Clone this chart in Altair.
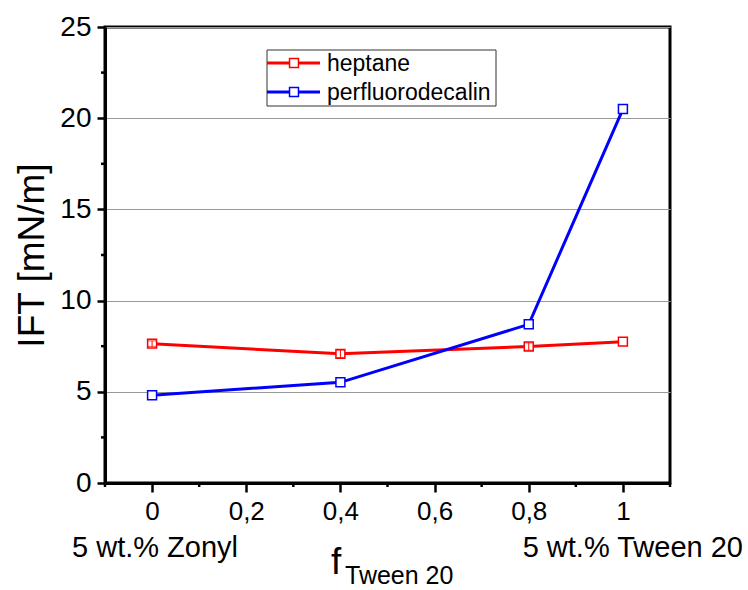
import altair as alt
import pandas as pd

# ---- data ----
f_tween = [0.0, 0.4, 0.8, 1.0]
heptane = [7.64, 7.08, 7.48, 7.75]
heptane_err = [0.15, 0.2, 0.2, 0.0]
perfluoro = [4.81, 5.52, 8.70, 20.50]
perfluoro_err = [0.0, 0.0, 0.0, 0.0]
series_names = ["heptane", "perfluorodecalin"]
series_colors = ["#ff0000", "#0000ff"]
y_major = [0, 5, 10, 15, 20, 25]
y_minor = [2.5, 7.5, 12.5, 17.5, 22.5]
x_major = [0, 0.2, 0.4, 0.6, 0.8, 1.0]
x_minor = [-0.1, 0.1, 0.3, 0.5, 0.7, 0.9, 1.1]

FONT = "Liberation Sans"
W, H = 565, 456

rows = []
for name, vals, errs in [("heptane", heptane, heptane_err), ("perfluorodecalin", perfluoro, perfluoro_err)]:
    for x, v, e in zip(f_tween, vals, errs):
        rows.append({"f": x, "IFT": v, "lo": v - e, "hi": v + e, "err": e, "series": name})
df = pd.DataFrame(rows)
df_err = df[df["err"] > 0]

xs = alt.Scale(domain=[-0.1, 1.1], nice=False, zero=False)
ys = alt.Scale(domain=[0, 25], nice=False, zero=True)
cs = alt.Scale(domain=series_names, range=series_colors)

x_axis = alt.Axis(
    values=x_major,
    labelExpr="datum.value == 0 ? '0' : datum.value == 1 ? '1' : replace(format(datum.value, '.1f'), '.', ',')",
    labelFont=FONT, labelFontSize=26, labelColor="black", labelPadding=6,
    tickSize=9, tickWidth=2.5, tickColor="black",
    domainColor="black", domainWidth=3, grid=False, title=None,
)
y_axis = alt.Axis(
    values=y_major, format="d",
    labelFont=FONT, labelFontSize=28, labelColor="black", labelPadding=6,
    tickSize=8, tickWidth=2.5, tickColor="black",
    domainColor="black", domainWidth=3,
    grid=True, gridColor="#999999", gridWidth=1,
    title="IFT [mN/m]", titleFont=FONT, titleFontSize=37, titleFontWeight="normal",
    titleColor="black", titleAngle=-90, titleAlign="center", titleBaseline="alphabetic",
    titleX=-62, titleY=H / 2,
)

base = alt.Chart(df)

lines = base.mark_line(strokeWidth=3).encode(
    x=alt.X("f:Q", scale=xs, axis=x_axis),
    y=alt.Y("IFT:Q", scale=ys, axis=y_axis),
    color=alt.Color("series:N", scale=cs, legend=None),
    detail="series:N",
)
points = base.mark_point(shape="square", filled=True, fill="white", size=80, strokeWidth=1.5, opacity=1).encode(
    x=alt.X("f:Q", scale=xs, axis=x_axis),
    y=alt.Y("IFT:Q", scale=ys, axis=y_axis),
    stroke=alt.Stroke("series:N", scale=cs, legend=None),
)
err_stem = alt.Chart(df_err).mark_rule(strokeWidth=1).encode(
    x=alt.X("f:Q", scale=xs, axis=x_axis),
    y=alt.Y("lo:Q", scale=ys, axis=y_axis),
    y2="hi:Q",
    color=alt.Color("series:N", scale=cs, legend=None),
)
err_lo = alt.Chart(df_err).mark_tick(orient="horizontal", size=8, thickness=1).encode(
    x=alt.X("f:Q", scale=xs, axis=x_axis),
    y=alt.Y("lo:Q", scale=ys, axis=y_axis),
    color=alt.Color("series:N", scale=cs, legend=None),
)
err_hi = alt.Chart(df_err).mark_tick(orient="horizontal", size=8, thickness=1).encode(
    x=alt.X("f:Q", scale=xs, axis=x_axis),
    y=alt.Y("hi:Q", scale=ys, axis=y_axis),
    color=alt.Color("series:N", scale=cs, legend=None),
)

# minor ticks (drawn through the shared scales)
ymin_df = pd.DataFrame({"IFT": y_minor})
xmin_df = pd.DataFrame({"f": x_minor})
y_minor_ticks = alt.Chart(ymin_df).mark_rule(color="black", strokeWidth=2.5).encode(
    y=alt.Y("IFT:Q", scale=ys, axis=y_axis), x=alt.value(-4), x2=alt.value(0)
)
x_minor_ticks = alt.Chart(xmin_df).mark_rule(color="black", strokeWidth=2.5).encode(
    x=alt.X("f:Q", scale=xs, axis=x_axis), y=alt.value(H), y2=alt.value(H + 4)
)

# legend (manual)
one = pd.DataFrame({"a": [0]})
leg_box = alt.Chart(one).mark_rect(fill="white", stroke="#333333", strokeWidth=1).encode(
    x=alt.value(162), x2=alt.value(391), y=alt.value(23), y2=alt.value(79)
)
leg_layers = [leg_box]
for name, col, yy in zip(series_names, series_colors, [36, 65]):
    leg_layers.append(
        alt.Chart(one).mark_rule(color=col, strokeWidth=3).encode(
            x=alt.value(162), x2=alt.value(215), y=alt.value(yy)
        )
    )
    leg_layers.append(
        alt.Chart(one).mark_point(shape="square", filled=True, fill="white", stroke=col,
                                  size=80, strokeWidth=1.5, opacity=1).encode(
            x=alt.value(189), y=alt.value(yy)
        )
    )
    leg_layers.append(
        alt.Chart(one).mark_text(text=name, font=FONT, fontSize=23, color="black",
                                 align="left", baseline="middle").encode(
            x=alt.value(222), y=alt.value(yy + 1)
        )
    )

# bottom annotations
txt_zonyl = alt.Chart(one).mark_text(text="5 wt.% Zonyl", font=FONT, fontSize=29, color="black",
                                     align="left", baseline="alphabetic").encode(
    x=alt.value(-33), y=alt.value(530))
txt_tween = alt.Chart(one).mark_text(text="5 wt.% Tween 20", font=FONT, fontSize=29, color="black",
                                     align="right", baseline="alphabetic").encode(
    x=alt.value(638), y=alt.value(530))
txt_f = alt.Chart(one).mark_text(text="f", font=FONT, fontSize=37, color="black",
                                 align="left", baseline="alphabetic").encode(
    x=alt.value(226), y=alt.value(547))
txt_sub = alt.Chart(one).mark_text(text="Tween 20", font=FONT, fontSize=25, color="black",
                                   align="left", baseline="alphabetic").encode(
    x=alt.value(240), y=alt.value(557))

chart = alt.layer(
    lines, points, err_stem, err_lo, err_hi, y_minor_ticks, x_minor_ticks,
    *leg_layers, txt_zonyl, txt_tween, txt_f, txt_sub
).properties(
    width=W, height=H,
    autosize=alt.AutoSizeParams(type="none"),
    padding={"left": 105, "top": 27, "right": 78, "bottom": 107},
    background="white",
).configure_view(stroke="black", strokeWidth=3)

chart.save("out.html", embed_options={"renderer": "svg", "actions": False})
